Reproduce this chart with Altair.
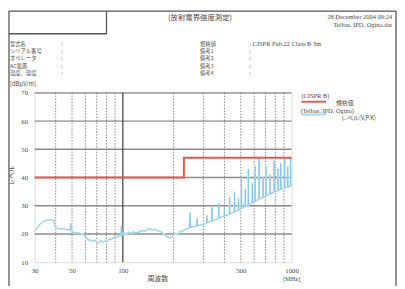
import altair as alt
import pandas as pd

# ---------------- data ----------------
freq_mhz = [30, 31, 32, 33, 34, 35, 36, 37, 38, 39, 39.5, 40, 41, 42, 44, 46, 48, 48.8, 49.2, 49.6,
            50, 52, 54, 56, 58, 60, 62, 64, 66, 68, 70, 72, 74, 76, 78, 80, 82, 84, 86, 88,
            90, 92, 94, 96, 97.5, 98, 98.5, 100, 102, 104, 108, 112, 116, 120, 125, 130, 135, 140, 145, 150,
            155, 160, 165, 170, 175, 180, 185, 190, 195, 200, 205, 210, 215, 220, 225, 230, 235, 240, 245, 248,
            250, 252, 260, 268, 273, 275, 277, 285, 295, 305, 313, 315, 317, 325, 335, 337, 339, 350, 360, 368,
            370, 372, 385, 398, 400, 402, 415, 427, 429, 431, 445, 457, 459, 461, 470, 482, 484, 486, 495, 502,
            504, 506, 518, 530, 532, 534, 545, 552, 554, 556, 570, 583, 585, 587, 597, 606, 608, 610, 625, 640,
            642, 644, 660, 675, 677, 679, 690, 702, 704, 706, 725, 743, 745, 747, 765, 785, 787, 789, 810, 829,
            831, 833, 848, 861, 863, 865, 885, 908, 910, 912, 930, 946, 948, 950, 965, 983, 985, 987, 1000]
level_dbuv = [21.0, 22.0, 23.2, 24.0, 24.5, 24.8, 25.0, 24.9, 25.0, 24.8, 23.0, 22.3, 22.0, 21.8, 21.9, 21.6, 21.5, 21.4, 23.8, 21.2,
              20.8, 20.3, 20.5, 20.1, 20.0, 19.0, 18.0, 17.8, 17.4, 17.9, 17.0, 16.8, 17.8, 17.1, 17.5, 17.2, 18.0, 18.3, 18.1, 18.8,
              19.0, 18.7, 19.4, 19.2, 19.5, 22.8, 19.6, 19.8, 20.5, 19.9, 20.6, 20.2, 20.8, 20.4, 20.7, 21.2, 21.0, 21.6, 21.8, 21.4,
              21.7, 21.2, 20.9, 20.6, 20.0, 19.4, 18.9, 18.6, 19.0, 19.6, 20.2, 19.8, 20.6, 21.0, 20.8, 21.4, 21.6, 21.9, 22.0, 22.2,
              27.5, 22.3, 22.5, 22.7, 22.8, 25.5, 22.9, 23.1, 23.4, 23.6, 23.9, 26.5, 24.0, 24.3, 24.5, 29.5, 24.6, 25.0, 25.2, 25.5,
              31.0, 25.6, 26.0, 26.3, 29.5, 26.4, 26.7, 27.0, 33.0, 27.1, 27.5, 27.8, 35.0, 27.9, 28.0, 28.4, 32.5, 28.5, 28.8, 29.0,
              40.0, 29.1, 29.4, 29.7, 36.0, 29.8, 30.1, 30.3, 43.0, 30.4, 30.8, 31.0, 38.0, 31.1, 31.4, 31.6, 44.0, 31.7, 32.0, 32.3,
              47.0, 32.4, 32.7, 33.0, 40.0, 33.1, 33.3, 33.5, 44.0, 33.6, 33.9, 34.2, 41.0, 34.3, 34.5, 34.8, 46.0, 34.9, 35.1, 35.4,
              43.0, 35.5, 35.7, 35.8, 45.0, 35.9, 36.1, 36.3, 47.0, 36.4, 36.5, 36.6, 44.0, 36.7, 36.8, 36.9, 47.0, 37.0, 37.2]

limit_freq = [30, 230, 230, 1000]
limit_level = [40, 40, 47, 47]

x_tick_labels = [30, 50, 100, 500, 1000]
y_tick_labels = [10, 20, 30, 40, 50, 60, 70]
h_grid = [20, 30, 40, 50, 60, 70]
v_grid_minor = [40, 50, 60, 70, 80, 90, 200, 300, 400, 500, 600, 700, 800, 900]
v_grid_major = [100]

# ---------------- layout helpers ----------------
PX, PY = 35, 92      # absolute position of plot origin on page
W, H = 261, 172

JP = "Noto Sans CJK JP"
SERIF = "Liberation Serif"
TXT = "#4a4a4a"

x_scale = alt.Scale(type="log", domain=[30, 1000], nice=False)
y_scale = alt.Scale(domain=[10, 70], nice=False, zero=False)

meas = pd.DataFrame({"f": freq_mhz, "v": level_dbuv})
limit = pd.DataFrame({"f": limit_freq, "v": limit_level, "i": list(range(len(limit_freq)))})

grid_h = alt.Chart(pd.DataFrame({"v": h_grid})).mark_rule(color="#8c8c8c", strokeWidth=1.4).encode(
    y=alt.Y("v:Q", scale=y_scale, axis=None))
grid_v = alt.Chart(pd.DataFrame({"f": v_grid_minor})).mark_rule(
    color="#6a6a6a", strokeWidth=0.8, strokeDash=[1.5, 1.5]).encode(
    x=alt.X("f:Q", scale=x_scale, axis=None))
grid_v100 = alt.Chart(pd.DataFrame({"f": v_grid_major})).mark_rule(color="#3a3a3a", strokeWidth=1.2).encode(
    x=alt.X("f:Q", scale=x_scale, axis=None))

axes_layer = alt.Chart(pd.DataFrame({"f": [30, 1000], "v": [10, 70]})).mark_point(opacity=0).encode(
    x=alt.X("f:Q", scale=x_scale, axis=alt.Axis(values=x_tick_labels, format="d", grid=False, ticks=False,
                                                 domain=False, labelFont=SERIF, labelFontSize=7,
                                                 labelColor=TXT, labelPadding=4, labelFlush=False, title=None)),
    y=alt.Y("v:Q", scale=y_scale, axis=alt.Axis(values=y_tick_labels, format="d", grid=False, ticks=False,
                                                 domain=False, labelFont=SERIF, labelFontSize=7,
                                                 labelColor=TXT, labelPadding=7, title=None)))

meas_halo = alt.Chart(meas).mark_line(color="#d3ecf7", strokeWidth=1.8, interpolate="linear").encode(
    x=alt.X("f:Q", scale=x_scale, axis=None), y=alt.Y("v:Q", scale=y_scale, axis=None))
meas_line = alt.Chart(meas).mark_line(color="#84c6e6", strokeWidth=0.9, interpolate="linear").encode(
    x=alt.X("f:Q", scale=x_scale, axis=None), y=alt.Y("v:Q", scale=y_scale, axis=None))
limit_line = alt.Chart(limit).mark_line(color="#e8574b", strokeWidth=2.0).encode(
    x=alt.X("f:Q", scale=x_scale, axis=None), y=alt.Y("v:Q", scale=y_scale, axis=None),
    order="i:Q")

# ---------------- annotations (absolute page px) ----------------
ann_text = ["(放射電界強度測定)",
            "型式名", "シリアル番号", "オペレータ", "AC電源", "温度、湿度", "[dBμV/m]",
            "規格値", "備考1", "備考2", "備考3", "備考4",
            "規格値", "レベル(V,P.K)", "周波数"]
ann_x = [203, 10, 10, 10, 10, 10, 10, 203, 203, 203, 203, 203, 350, 364, 160]
ann_y = [16, 42, 49.5, 57, 64.5, 72, 83, 42, 49.5, 57, 64.5, 72, 102, 118, 281]
ann_size = [7.5, 5.4, 5.4, 5.4, 5.4, 5.4, 6, 5.4, 5.4, 5.4, 5.4, 5.4, 6, 6, 7]
ann_align = ["center"] + ["left"] * 11 + ["center", "center", "center"]

ser_text = ["28 December 2004 09:24", "Telbas, IPD, Ogino.dat", ": CISPR Pub.22  Class B 3m",
            "(CISPR B)", "(Telbas, IPD, Ogino)", "[MHz]",
            ":", ":", ":", ":", ":", ":", ":", ":", ":"]
ser_x = [398, 398, 253, 306, 305, 296, 62, 62, 62, 62, 62, 253, 253, 253, 253]
ser_y = [15, 23, 42, 95, 110, 281, 42, 49.5, 57, 64.5, 72, 49.5, 57, 64.5, 72]
ser_size = [6.5, 6.5, 6.5, 6.5, 6.5, 6.5] + [5.5] * 9
ser_align = ["right", "right", "left", "left", "left", "center"] + ["left"] * 9

jp_df = pd.DataFrame({"t": ann_text, "x": [a - PX for a in ann_x], "y": [b - PY for b in ann_y],
                      "a": ann_align, "s": ann_size})
ser_df = pd.DataFrame({"t": ser_text, "x": [a - PX for a in ser_x], "y": [b - PY for b in ser_y],
                       "a": ser_align, "s": ser_size})

def text_layer(df, font, align):
    sub = df[df["a"] == align]
    return alt.Chart(sub).mark_text(
        font=font, color=TXT, align=align, baseline="middle").encode(
        x=alt.X("x:Q", scale=None, axis=None), y=alt.Y("y:Q", scale=None, axis=None), text="t:N",
        size=alt.Size("s:Q", scale=None, legend=None))

texts = []
for al in ["left", "center"]:
    texts.append(text_layer(jp_df, JP, al))
for al in ["left", "center", "right"]:
    texts.append(text_layer(ser_df, SERIF, al))

title_y = alt.Chart(pd.DataFrame({"t": ["レベル"], "x": [12 - PX], "y": [176 - PY]})).mark_text(
    font=JP, fontSize=6.5, color=TXT, angle=270, align="center", baseline="middle").encode(
    x=alt.X("x:Q", scale=None, axis=None), y=alt.Y("y:Q", scale=None, axis=None), text="t:N")

# legend swatches & page frame lines (absolute px)
seg_x1 = [306, 306]
seg_x2 = [331, 331]
seg_y = [101, 114]
seg_col = ["#e8574b", "#a9d8ee"]
seg_df = pd.DataFrame({"x": [a - PX for a in seg_x1], "x2": [a - PX for a in seg_x2],
                       "y": [b - PY for b in seg_y], "c": seg_col})
legend_segs = alt.Chart(seg_df).mark_rule(strokeWidth=2).encode(
    x=alt.X("x:Q", scale=None, axis=None), x2="x2:Q",
    y=alt.Y("y:Q", scale=None, axis=None), color=alt.Color("c:N", scale=None, legend=None))

frame_x1 = [9, 9, 402, 9, 108]
frame_x2 = [402, 9, 402, 108, 108]
frame_y1 = [9, 9, 9, 32, 9]
frame_y2 = [9, 289, 289, 32, 32]
frame_df = pd.DataFrame({"x": [a - PX for a in frame_x1], "x2": [a - PX for a in frame_x2],
                         "y": [b - PY for b in frame_y1], "y2": [b - PY for b in frame_y2]})
frame = alt.Chart(frame_df).mark_rule(color="#555555", strokeWidth=1.3).encode(
    x=alt.X("x:Q", scale=None, axis=None), x2="x2:Q",
    y=alt.Y("y:Q", scale=None, axis=None), y2="y2:Q")

chart = alt.layer(
    grid_h, grid_v, grid_v100, axes_layer, meas_halo, meas_line, limit_line,
    *texts, title_y, legend_segs, frame
).resolve_scale(x="independent", y="independent").properties(
    width=W, height=H,
    autosize=alt.AutoSizeParams(type="none"),
    padding={"left": PX - 8, "top": PY - 8, "right": 403 - (PX + W), "bottom": 286 - (PY + H)},
).configure_view(stroke="#444444", strokeWidth=1.4).configure(background="white")

chart.save("out.html", embed_options={"renderer": "svg", "actions": False})
